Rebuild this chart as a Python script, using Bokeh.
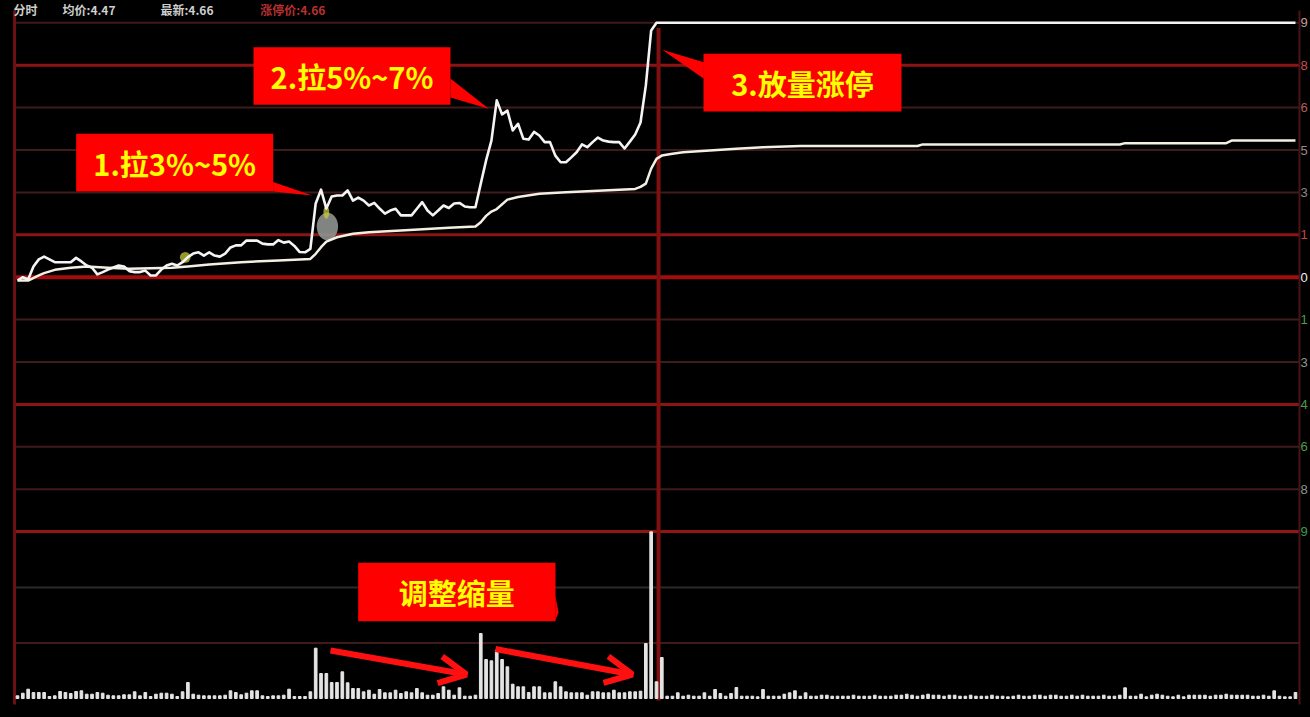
from bokeh.plotting import figure
from bokeh.models import Range1d, Arrow, OpenHead
from bokeh.embed import file_html
from bokeh.resources import INLINE
from bokeh.core.properties import value

# ---------------- data ----------------
# minute index 0..240 (09:30 .. 15:00), price change in % vs previous close
price_minutes = list(range(0, 121)) + [240]
price_pct = [
    -0.13, 0.00, -0.09, 0.42, 0.70, 0.81, 0.70, 0.59, 0.59, 0.59,
    0.59, 0.76, 0.62, 0.46, 0.37, 0.11, 0.20, 0.30, 0.38, 0.46,
    0.42, 0.24, 0.20, 0.20, 0.26, 0.07, 0.07, 0.30, 0.46, 0.53,
    0.46, 0.59, 0.79, 0.93, 0.98, 0.85, 0.98, 0.85, 0.81, 0.93,
    1.17, 1.25, 1.25, 1.44, 1.44, 1.44, 1.32, 1.29, 1.29, 1.46,
    1.36, 1.40, 1.23, 0.99, 0.98, 1.11, 2.90, 3.44, 2.70, 3.17,
    3.21, 3.21, 3.41, 3.01, 3.13, 3.01, 2.82, 2.92, 2.70, 2.50,
    2.62, 2.69, 2.43, 2.43, 2.43, 2.69, 2.95, 2.62, 2.43, 2.62,
    2.82, 2.72, 2.90, 2.92, 2.78, 2.75, 2.75, 3.68, 4.59, 5.37,
    6.95, 6.40, 6.55, 5.77, 6.03, 5.44, 5.41, 5.71, 5.57, 5.31,
    5.31, 4.78, 4.52, 4.52, 4.71, 4.91, 5.22, 5.11, 5.31, 5.49,
    5.37, 5.33, 5.31, 5.31, 5.06, 5.33, 5.61, 6.08, 7.54, 9.70,
    10.00, 10.00,
]

avg_minutes = [0, 2, 4, 5, 7, 10, 13, 17, 21, 29, 32, 36, 42, 49, 55, 56, 57, 58,
               60, 63, 66, 72, 81, 86, 87, 88, 89, 90, 92, 94, 98, 103, 110, 116,
               117, 118, 119, 120, 121, 123, 125, 130, 135, 140, 147, 169, 170,
               207, 208, 227, 228, 240]
avg_pct = [-0.13, -0.13, 0.07, 0.16, 0.29, 0.37, 0.42, 0.37, 0.33, 0.37, 0.42,
           0.50, 0.59, 0.66, 0.72, 0.92, 1.18, 1.40, 1.57, 1.71, 1.77, 1.84,
           1.94, 1.99, 2.16, 2.41, 2.58, 2.68, 3.05, 3.15, 3.28, 3.34, 3.41,
           3.47, 3.55, 3.68, 4.27, 4.65, 4.78, 4.85, 4.91, 4.98, 5.05, 5.11,
           5.16, 5.16, 5.22, 5.22, 5.27, 5.27, 5.37, 5.37]

# volume per minute (relative units)
volume = [
    2.7, 5.3, 9.3, 6, 6, 6, 2, 2.7, 7, 6, 5, 7, 7.7, 4.3, 4.3, 6, 5.3, 3.3, 2.7, 2.7,
    3.7, 3.7, 6.7, 2.7, 6, 2, 4.3, 5.3, 5.3, 4.3, 2, 6.7, 16, 4.3, 3.3, 2.7, 2.7, 2.7,
    2.7, 3.3, 7.7, 6, 3.7, 5.3, 7.7, 7.7, 2.7, 2, 2.7, 2.7, 3.3, 9.3, 2, 2, 2, 6.7, 50.3,
    25, 25, 16, 16, 26.7, 15.7, 10, 10, 6.7, 8.3, 4.3, 9, 5.7, 5.7, 8.3, 5, 6.7, 5.7,
    10, 5.7, 3.3, 3.3, 5,
    11.7, 8.3, 3.3, 10.7, 2.3, 2.3, 3.3, 65, 39, 37.7, 48.3, 39, 31.7, 14.3, 11.7, 11.7,
    6, 11.7, 11.7, 5.7, 5.7, 16.7, 11.7, 6.7, 5.7, 5.7, 5.7, 3.3, 6.7, 6.7, 5.7, 5.7,
    8.3, 5.7, 5.7, 6.7, 6.7, 7.3, 55, 166.7, 16.7, 41,
    2.3, 2.3, 5.7, 2.3, 3.3, 2.3, 2.3, 5.7, 2.3, 9, 5, 2.3, 5, 11, 2.3, 2.3, 2.3, 1.7,
    9, 2.3, 2.3, 2.3, 4.3, 5.7, 7.7, 2.3, 5.7, 2.3, 2.3, 3.3, 3.3, 2.3, 2.3,
    2.3, 2.3, 3.3, 2.3, 2.3, 2.3, 3.3, 2.3, 2.3,
    2.3, 3.3, 3.3, 4.3, 3.3, 2.3, 3.3, 4.3, 3.3, 3.3, 2.3, 3.3, 3.3, 2.3, 2.3, 3.3, 2.3,
    2.3, 2.3, 3.3, 2.3, 2.3, 1.7, 2.3, 3.3, 2.3, 2.3, 3.3, 3.3, 2.3, 3.3, 3.3, 2.3, 2.3,
    3.3, 2.3,
    3.3, 2.3, 2.3, 2.3, 3.3, 2.3, 2.3, 3.3, 10.7, 2.3, 2.3, 4.3, 1.7, 3.3, 4.3, 3.3,
    2.3, 1.7, 3.3, 1.7, 3.3, 3.3, 3.3, 3.3, 2.3, 3.3, 3.3, 4.3, 3.3, 3.3, 3.3, 3.3, 2.3,
    2.3, 3.3, 2.3, 7.7, 2.3, 1.7, 1.7, 6,
]
vol_minutes = list(range(len(volume)))

grid_pct = [10.0, 8.333, 6.667, 5.0, 3.333, 1.667, 0.0,
            -1.667, -3.333, -5.0, -6.667, -8.333, -10.0]
# only the first digit of each right-hand label is visible in the picture
grid_labels = ["9", "8", "6", "5", "3", "1", "0", "1", "3", "4", "6", "8", "9"]
vol_grid = [55.6, 111.1]

header_parts = ["分时", "均价:4.47", "最新:4.66", "涨停价:4.66"]

notes = ["1.拉3%~5%", "2.拉5%~7%", "3.放量涨停"]
note_vol = "调整缩量"

# ---------------- styles ----------------
DIM = "#3e1c1c"
RED = "#8e1414"
grid_colors = [DIM, RED, DIM, DIM, DIM, RED, "#a50d0d", DIM, DIM, RED, DIM, DIM, "#921515"]
grid_widths = [2, 3, 2, 2, 2, 3, 4, 2, 2, 3, 2, 2, 3]
label_colors = ["#c99a9a", "#c85050", "#b06060", "#9a8a8a", "#8a8a8a", "#c04848", "#f0f0f0",
                "#4f9a4f", "#8a9a8a", "#4f9a4f", "#4f9a4f", "#8a9a8a", "#3f9a4f"]
header_x = [-0.75, 8.45, 26.85, 45.6]
header_colors = ["#cfcfcf", "#cfcfcf", "#cfcfcf", "#b83030"]

p = figure(width=1310, height=717,
           x_range=Range1d(-3.192, 242.82), y_range=Range1d(-17.307, 10.877),
           output_backend="svg", toolbar_location=None,
           x_axis_location=None, y_axis_location=None,
           background_fill_color="black", border_fill_color="black",
           min_border=0, outline_line_color=None)
p.grid.visible = False
p.extra_y_ranges = {"vol": Range1d(-19, 698)}

X0, X1 = -0.56, 240.75   # left / right frame lines (in minutes)

# horizontal grid (price area)
p.segment(x0=[X0] * len(grid_pct), x1=[X1] * len(grid_pct), y0=grid_pct, y1=grid_pct,
          line_color=grid_colors, line_width=grid_widths)
# volume grid
p.segment(x0=[X0, X0], x1=[X1, X1], y0=vol_grid, y1=vol_grid,
          line_color=["#3f1a1a", "#2e2828"], line_width=[2, 2], y_range_name="vol")

# vertical frame lines
p.segment(x0=[X0], x1=[X0], y0=[10.48], y1=[-16.80], line_color="#6e1010", line_width=3)
p.segment(x0=[X1], x1=[X1], y0=[10.48], y1=[-16.80], line_color="#4a1414", line_width=2)
p.segment(x0=[120.38], x1=[120.38], y0=[9.80], y1=[-16.64], line_color="#7e1010", line_width=4)

# right-hand labels
p.text(x=[X1 + 0.2] * len(grid_pct), y=grid_pct, text=grid_labels,
       text_font=value("Liberation Sans"), text_font_size="13px",
       text_color=label_colors, text_align="left", text_baseline="middle")

# header line
p.text(x=header_x, y=[10.86] * 4, text=header_parts, text_font=value("Noto Sans CJK SC"),
       text_font_size="12px", text_font_style="bold", text_color=header_colors,
       text_align="left", text_baseline="top")

# cursor artefacts seen on the screenshot
p.ellipse(x=[58.2], y=[1.99], width=4.0, height=1.08, fill_color="#8f938f",
          fill_alpha=0.9, line_color=None)
p.ellipse(x=[58.0, 31.5], y=[2.55, 0.78], width=[1.1, 2.0], height=[0.5, 0.42],
          fill_color="#c8c83c", fill_alpha=0.75, line_color=None)

# volume bars
p.vbar(x=vol_minutes, top=volume, bottom=0, width=0.5, color="#e4e4e4",
       y_range_name="vol")

# average + price lines
p.line(avg_minutes, avg_pct, line_color="#f3efe2", line_width=2.5, line_join="round")
p.line(price_minutes, price_pct, line_color="#f4f4f4", line_width=2.6, line_join="round")

# ---------------- callouts ----------------
box_l = [11.02, 44.32, 128.83]
box_r = [48.02, 81.31, 166.01]
box_t = [5.64, 9.04, 8.78]
box_b = [3.37, 6.78, 6.51]
p.quad(left=box_l, right=box_r, top=box_t, bottom=box_b, fill_color="#ff0000", line_color=None)
p.patches(xs=[[48.0, 48.0, 55.34], [81.3, 81.3, 88.5], [128.9, 128.9, 121.07]],
          ys=[[3.74, 3.37, 3.21], [7.81, 7.06, 6.62], [8.45, 7.80, 8.94]],
          fill_color="#ff0000", line_color=None)
p.text(x=[(l + r) / 2 for l, r in zip(box_l, box_r)],
       y=[(t + b) / 2 for t, b in zip(box_t, box_b)],
       text=notes, text_font=value("Noto Sans CJK SC"), text_font_style="bold",
       text_font_size="29px", text_color="#ffff00",
       text_align="center", text_baseline="middle")

# volume callout
p.quad(left=[63.98], right=[101.03], top=[135.7], bottom=[77.3],
       fill_color="#ff0000", line_color=None, y_range_name="vol")
p.patches(xs=[[101.0, 101.0, 101.6]], ys=[[103, 78, 86]], fill_color="#ff0000",
          line_color=None, y_range_name="vol")
p.text(x=[82.5], y=[106.5], text=[note_vol], text_font=value("Noto Sans CJK SC"),
       text_font_style="bold", text_font_size="29px", text_color="#ffff00",
       text_align="center", text_baseline="middle", y_range_name="vol")

for (xs, ys, xe, ye) in [(58.78, 48.0, 84.32, 24.0), (89.77, 49.5, 115.49, 24.0)]:
    p.add_layout(Arrow(end=OpenHead(size=27, line_color="#ff1010", line_width=6),
                       x_start=xs, y_start=ys, x_end=xe, y_end=ye,
                       line_color="#ff1010", line_width=6, y_range_name="vol"))

html = file_html(p, INLINE)
html = html.replace("<head>", "<head>\n<style>html, body { background: #000000; }</style>", 1)
open("out.html", "w").write(html)
